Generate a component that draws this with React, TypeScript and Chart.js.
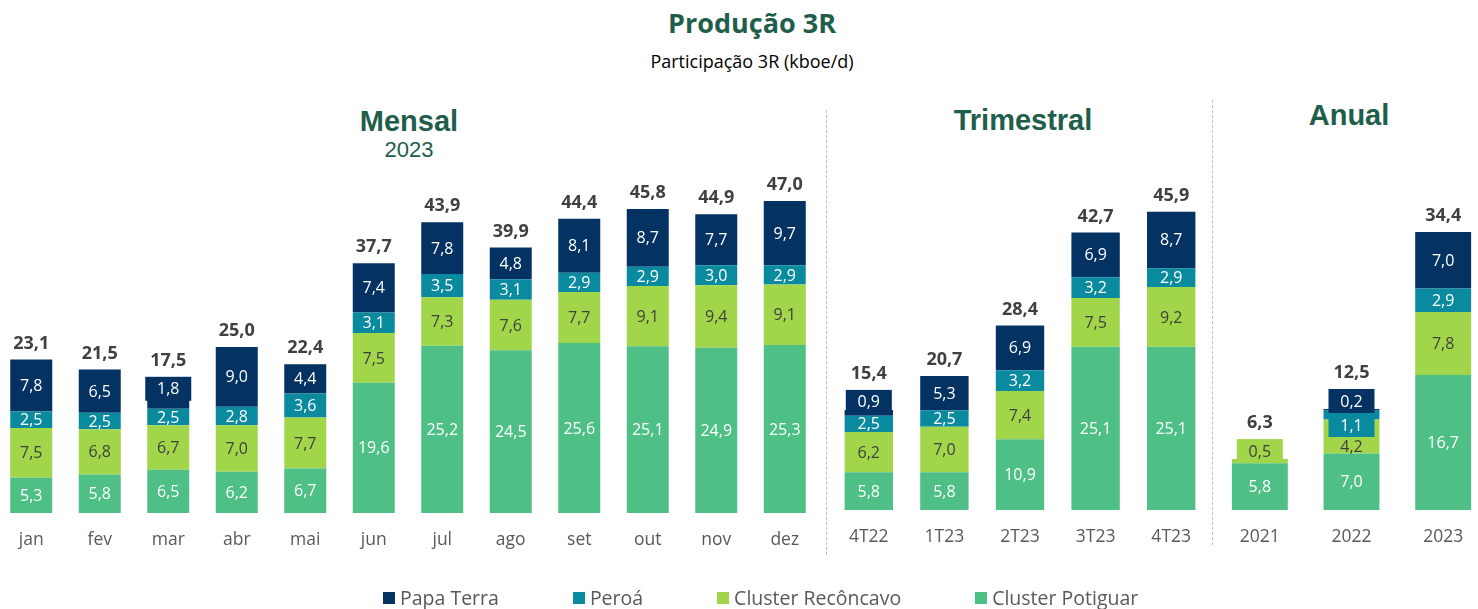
import React, { useEffect, useRef } from 'react';
import { Chart, registerables } from 'chart.js';

Chart.register(...registerables);

// ---------- DATA ----------
const months = ['jan', 'fev', 'mar', 'abr', 'mai', 'jun', 'jul', 'ago', 'set', 'out', 'nov', 'dez'];
const monthPotiguar = [5.3, 5.8, 6.5, 6.2, 6.7, 19.6, 25.2, 24.5, 25.6, 25.1, 24.9, 25.3];
const monthReconcavo = [7.5, 6.8, 6.7, 7.0, 7.7, 7.5, 7.3, 7.6, 7.7, 9.1, 9.4, 9.1];
const monthPeroa = [2.5, 2.5, 2.5, 2.8, 3.6, 3.1, 3.5, 3.1, 2.9, 2.9, 3.0, 2.9];
const monthPapaTerra = [7.8, 6.5, 1.8, 9.0, 4.4, 7.4, 7.8, 4.8, 8.1, 8.7, 7.7, 9.7];
const monthTotals = [23.1, 21.5, 17.5, 25.0, 22.4, 37.7, 43.9, 39.9, 44.4, 45.8, 44.9, 47.0];

const quarters = ['4T22', '1T23', '2T23', '3T23', '4T23'];
const quarterPotiguar = [5.8, 5.8, 10.9, 25.1, 25.1];
const quarterReconcavo = [6.2, 7.0, 7.4, 7.5, 9.2];
const quarterPeroa = [2.5, 2.5, 3.2, 3.2, 2.9];
const quarterPapaTerra = [0.9, 5.3, 6.9, 6.9, 8.7];
const quarterTotals = [15.4, 20.7, 28.4, 42.7, 45.9];

const years = ['2021', '2022', '2023'];
const yearPotiguar = [5.8, 7.0, 16.7];
const yearReconcavo = [0.5, 4.2, 7.8];
const yearPeroa = [null, 1.1, 2.9];
const yearPapaTerra = [null, 0.2, 7.0];
const yearTotals = [6.3, 12.5, 34.4];

const seriesNames = ['Papa Terra', 'Peroá', 'Cluster Recôncavo', 'Cluster Potiguar'];

// ---------- STYLE ----------
const COL_PAPA = '#033263';
const COL_PEROA = '#0a8a9e';
const COL_RECON = '#a2d64a';
const COL_POTI = '#4ec086';
const legendColors = [COL_PAPA, COL_PEROA, COL_RECON, COL_POTI];
const GREEN_TITLE = '#1e5e4b';

const fmt = (v: number) => v.toFixed(1).replace('.', ',');

const segLabelsPlugin = {
  id: 'segLabels',
  afterDatasetsDraw(chart: any, _args: any, opts: any) {
    const ctx = chart.ctx;
    const labels = chart.data.labels as string[];
    const totals = opts.totals as number[];
    ctx.save();
    ctx.textAlign = 'center';
    ctx.textBaseline = 'middle';
    for (let i = 0; i < labels.length; i++) {
      const segs: any[] = [];
      chart.data.datasets.forEach((ds: any, d: number) => {
        const v = ds.data[i];
        if (v == null || v === 0) return;
        const el = chart.getDatasetMeta(d).data[i];
        segs.push({ v, el, color: ds.backgroundColor, text: ds.textColor });
      });
      let cursor: number | null = null;
      let topMost = Infinity;
      let x = chart.scales.x.getPixelForValue(i);
      for (let k = segs.length - 1; k >= 0; k--) {
        const s = segs[k];
        const p = s.el.getProps(['x', 'y', 'base'], true);
        x = p.x;
        const y = Math.min(p.y, p.base);
        const base = Math.max(p.y, p.base);
        topMost = Math.min(topMost, y);
        const h = base - y;
        const label = fmt(s.v);
        ctx.font = '16px "Open Sans"';
        if (h < 14) {
          let bt: number, bb: number;
          if (cursor === null) {
            bb = y + 4;
            bt = bb - 24;
          } else {
            bt = cursor;
            bb = bt + 24;
          }
          cursor = bb;
          ctx.fillStyle = s.color;
          ctx.fillRect(x - 23, bt, 46, 24);
          ctx.fillStyle = s.text;
          ctx.fillText(label, x, (bt + bb) / 2 + 1);
          topMost = Math.min(topMost, bt);
        } else {
          let cy = (y + base) / 2 + 1;
          if (cursor !== null && cy - 9 < cursor) cy = cursor + 10;
          cursor = null;
          ctx.fillStyle = s.text;
          ctx.fillText(label, x, cy);
        }
      }
      ctx.font = 'bold 18px "Open Sans"';
      ctx.fillStyle = '#404040';
      ctx.fillText(fmt(totals[i]), x, topMost - 16);
      ctx.font = '17.5px "Open Sans"';
      ctx.fillStyle = '#595959';
      ctx.fillText(labels[i], x, opts.catY);
    }
    ctx.restore();
  },
};

type PanelProps = {
  left: number;
  width: number;
  labels: string[];
  potiguar: (number | null)[];
  reconcavo: (number | null)[];
  peroa: (number | null)[];
  papa: (number | null)[];
  totals: number[];
  max: number;
  bottom: number;
  pxPerUnit: number;
  barPct: number;
  catY: number;
};

const H = 609;

function BarPanel(props: PanelProps) {
  const ref = useRef<HTMLCanvasElement>(null);
  useEffect(() => {
    if (!ref.current) return;
    const padTop = props.bottom - props.max * props.pxPerUnit;
    const chart = new Chart(ref.current, {
      type: 'bar',
      data: {
        labels: props.labels,
        datasets: [
          { label: 'Cluster Potiguar', data: props.potiguar, backgroundColor: COL_POTI, textColor: '#ffffff' } as any,
          { label: 'Cluster Recôncavo', data: props.reconcavo, backgroundColor: COL_RECON, textColor: '#404040' } as any,
          { label: 'Peroá', data: props.peroa, backgroundColor: COL_PEROA, textColor: '#ffffff' } as any,
          { label: 'Papa Terra', data: props.papa, backgroundColor: COL_PAPA, textColor: '#ffffff' } as any,
        ],
      },
      options: {
        responsive: false,
        animation: false,
        events: [],
        layout: { padding: { top: padTop, bottom: H - props.bottom, left: 0, right: 0 } },
        datasets: { bar: { categoryPercentage: 1, barPercentage: props.barPct } },
        scales: {
          x: { stacked: true, display: false, offset: true },
          y: { stacked: true, display: false, min: 0, max: props.max },
        },
        plugins: {
          legend: { display: false },
          tooltip: { enabled: false },
          segLabels: { totals: props.totals, catY: props.catY },
        } as any,
      },
      plugins: [segLabelsPlugin as any],
    });
    return () => chart.destroy();
  }, []);
  return (
    <canvas
      ref={ref}
      width={Math.round(props.width)}
      height={H}
      style={{ position: 'absolute', left: props.left, top: 0, width: Math.round(props.width), height: H }}
    />
  );
}

const sectionStyle = (left: number, top: number, size: number, bold: boolean, width: number): React.CSSProperties => ({
  position: 'absolute',
  left,
  top,
  width,
  textAlign: 'center',
  fontFamily: '"Liberation Sans", Arial, sans-serif',
  fontWeight: bold ? 700 : 400,
  fontSize: size,
  lineHeight: `${size}px`,
  color: GREEN_TITLE,
  whiteSpace: 'nowrap',
});

export default function App() {
  return (
    <div
      style={{
        position: 'fixed',
        left: 0,
        top: 0,
        width: 1478,
        height: 609,
        overflow: 'hidden',
        background: '#ffffff',
        fontFamily: '"Open Sans", sans-serif',
      }}
    >
      <div
        style={{
          position: 'absolute',
          left: 552,
          top: 9,
          width: 400,
          textAlign: 'center',
          fontSize: 27,
          lineHeight: '27px',
          fontWeight: 700,
          color: GREEN_TITLE,
        }}
      >
        Produção 3R
      </div>
      <div
        style={{
          position: 'absolute',
          left: 552,
          top: 52,
          width: 400,
          textAlign: 'center',
          fontSize: 18,
          lineHeight: '18px',
          color: '#000000',
        }}
      >
        Participação 3R (kboe/d)
      </div>

      <div style={sectionStyle(309, 107, 29, true, 200)}>Mensal</div>
      <div style={sectionStyle(309, 139, 22, false, 200)}>2023</div>
      <div style={sectionStyle(923, 106, 29, true, 200)}>Trimestral</div>
      <div style={sectionStyle(1249, 101, 29, true, 200)}>Anual</div>

      <div style={{ position: 'absolute', left: 826, top: 110, height: 445, borderLeft: '1px dashed #bfbfbf' }} />
      <div style={{ position: 'absolute', left: 1212, top: 100, height: 445, borderLeft: '1px dashed #bfbfbf' }} />

      <BarPanel
        left={-3}
        width={822}
        labels={months}
        potiguar={monthPotiguar}
        reconcavo={monthReconcavo}
        peroa={monthPeroa}
        papa={monthPapaTerra}
        totals={monthTotals}
        max={60}
        bottom={513}
        pxPerUnit={6.64}
        barPct={0.613}
        catY={540}
      />
      <BarPanel
        left={831}
        width={378}
        labels={quarters}
        potiguar={quarterPotiguar}
        reconcavo={quarterReconcavo}
        peroa={quarterPeroa}
        papa={quarterPapaTerra}
        totals={quarterTotals}
        max={60}
        bottom={510}
        pxPerUnit={6.5}
        barPct={0.64}
        catY={537}
      />
      <BarPanel
        left={1214}
        width={275}
        labels={years}
        potiguar={yearPotiguar}
        reconcavo={yearReconcavo}
        peroa={yearPeroa}
        papa={yearPapaTerra}
        totals={yearTotals}
        max={45}
        bottom={510}
        pxPerUnit={8.08}
        barPct={0.61}
        catY={537}
      />

      <div
        style={{
          position: 'absolute',
          left: 383,
          top: 588,
          display: 'flex',
          gap: 74,
          alignItems: 'center',
          fontSize: 19.5,
          lineHeight: '19px',
          color: '#595959',
          whiteSpace: 'nowrap',
        }}
      >
        {seriesNames.map((name, i) => (
          <div key={name} style={{ display: 'flex', alignItems: 'center' }}>
            <span style={{ display: 'inline-block', width: 12, height: 12, background: legendColors[i], marginRight: 5 }} />
            <span>{name}</span>
          </div>
        ))}
      </div>
    </div>
  );
}
